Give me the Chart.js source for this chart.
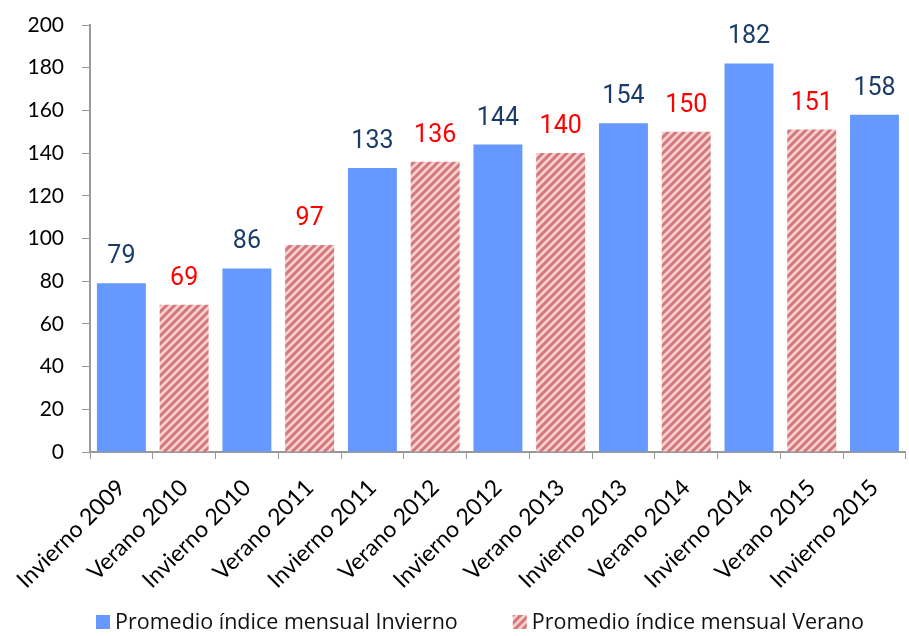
<!DOCTYPE html>
<html>
<head>
<meta charset="utf-8">
<script src="https://cdn.jsdelivr.net/npm/chart.js@4"></script>
<style>
  html, body { margin: 0; padding: 0; background: #fff; }
  #wrap { width: 909px; height: 636px; }
</style>
</head>
<body>
<div id="wrap"><canvas id="chart" width="909" height="636"></canvas></div>
<script>
// Data
const categories = ['Invierno 2009', 'Verano 2010', 'Invierno 2010', 'Verano 2011', 'Invierno 2011', 'Verano 2012',
    'Invierno 2012', 'Verano 2013', 'Invierno 2013', 'Verano 2014', 'Invierno 2014', 'Verano 2015', 'Invierno 2015'];
const inviernoValues = [79, null, 86, null, 133, null, 144, null, 154, null, 182, null, 158];
const veranoValues = [null, 69, null, 97, null, 136, null, 140, null, 150, null, 151, null];
const yTicks = [0, 20, 40, 60, 80, 100, 120, 140, 160, 180, 200];

// Hatched fill for the summer bars
function makeHatch() {
    const c = document.createElement('canvas');
    c.width = 8;
    c.height = 8;
    const g = c.getContext('2d');
    g.fillStyle = '#f5d0d0';
    g.fillRect(0, 0, 8, 8);
    g.strokeStyle = '#d4777a';
    g.lineWidth = 3;
    g.beginPath();
    g.moveTo(-2, 10); g.lineTo(10, -2);
    g.moveTo(-6, 6); g.lineTo(6, -6);
    g.moveTo(2, 14); g.lineTo(14, 2);
    g.stroke();
    return g.createPattern(c, 'repeat');
}
const hatch = makeHatch();

// Value labels above bars
const valueLabels = {
    id: 'valueLabels',
    afterDatasetsDraw(chart) {
        const ctx = chart.ctx;
        ctx.save();
        ctx.font = '25px Roboto';
        ctx.textAlign = 'center';
        ctx.textBaseline = 'alphabetic';
        chart.data.datasets.forEach((ds, i) => {
            const meta = chart.getDatasetMeta(i);
            meta.data.forEach((bar, j) => {
                const v = ds.data[j];
                if (v == null) return;
                ctx.fillStyle = ds.labelColor;
                ctx.fillText(String(v), bar.x, bar.y - 20);
            });
        });
        ctx.restore();
    }
};

// Legend row under the axis labels (wider spacing than the built-in one allows)
const bottomLegend = {
    id: 'bottomLegend',
    afterDraw(chart) {
        const ctx = chart.ctx;
        const box = 14, gap = 5, spacing = 55;
        let x = 96;
        const y = 622;
        ctx.save();
        ctx.font = '21.5px "Open Sans"';
        ctx.textBaseline = 'middle';
        ctx.textAlign = 'left';
        chart.data.datasets.forEach(ds => {
            ctx.fillStyle = ds.backgroundColor;
            ctx.fillRect(x, y - box / 2, box, box);
            ctx.fillStyle = '#111';
            ctx.fillText(ds.label, x + box + gap, y + 1);
            x += box + gap + ctx.measureText(ds.label).width + spacing;
        });
        ctx.restore();
    }
};

new Chart(document.getElementById('chart'), {
    type: 'bar',
    data: {
        labels: categories,
        datasets: [{
            label: 'Promedio índice mensual Invierno',
            data: inviernoValues,
            backgroundColor: '#6699ff',
            labelColor: '#1a3c6a',
            grouped: false,
            barPercentage: 0.78,
            categoryPercentage: 1,
        }, {
            label: 'Promedio índice mensual Verano',
            data: veranoValues,
            backgroundColor: hatch,
            labelColor: '#ff0000',
            grouped: false,
            barPercentage: 0.78,
            categoryPercentage: 1,
        }],
    },
    options: {
        responsive: false,
        animation: false,
        layout: { padding: { top: 25, right: -6, left: 0, bottom: 34 } },
        plugins: {
            legend: { display: false },
            tooltip: { enabled: false },
        },
        scales: {
            x: {
                grid: { drawOnChartArea: false, color: '#999', tickLength: 7, offset: true },
                border: { color: '#999', width: 2 },
                ticks: {
                    font: { family: 'Lato', size: 23 },
                    color: '#000',
                    maxRotation: 45,
                    minRotation: 45,
                    padding: 15,
                },
                afterFit(scale) { scale.height = 150; },
            },
            y: {
                min: 0,
                max: 200,
                afterBuildTicks(scale) { scale.ticks = yTicks.map(v => ({ value: v })); },
                grid: { drawOnChartArea: false, color: '#999', tickLength: 8 },
                border: { color: '#999', width: 2 },
                ticks: {
                    font: { family: 'Lato', size: 21 },
                    color: '#000',
                    padding: 18,
                },
                afterFit(scale) {
                    scale.width = 90;
                    // tick padding would otherwise push the plot top down
                    scale.paddingTop = 12;
                    scale.paddingBottom = 12;
                },
            },
        },
    },
    plugins: [valueLabels, bottomLegend],
});
</script>
</body>
</html>
